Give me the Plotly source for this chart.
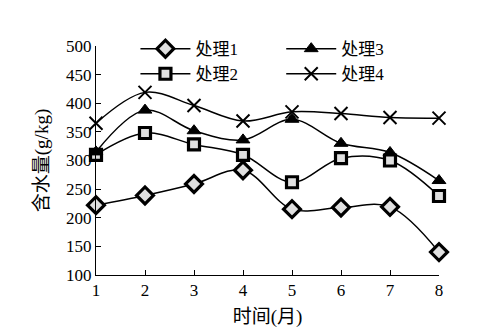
import plotly.graph_objects as go

months = [1, 2, 3, 4, 5, 6, 7, 8]
t1 = [222, 239, 259, 283, 215, 218, 219, 140]
t2 = [310, 348, 328, 310, 262, 304, 300, 238]
t3 = [315, 388, 352, 336, 372, 330, 314, 265]
t4 = [365, 419, 396, 369, 385, 382, 375, 374]
y_ticks = [100, 150, 200, 250, 300, 350, 400, 450, 500]

FONT = "Liberation Serif, Noto Sans CJK SC, serif"

fig = go.Figure()

series = [
    ("处理1", t1, dict(symbol="diamond", size=13, color="#e0e0e0",
                     line=dict(color="black", width=3.2)), "legend"),
    ("处理2", t2, dict(symbol="square", size=11, color="#e0e0e0",
                     line=dict(color="black", width=3.2)), "legend"),
    ("处理3", t3, dict(symbol="triangle-up", size=12, color="black",
                     line=dict(color="black", width=1)), "legend2"),
    ("处理4", t4, dict(symbol="x-thin", size=13, color="black",
                     line=dict(color="black", width=2)), "legend2"),
]

for name, vals, mk, lg in series:
    fig.add_trace(go.Scatter(
        x=months, y=vals, name=name, mode="lines+markers",
        line=dict(color="black", width=1.5, shape="spline", smoothing=1),
        marker=mk, cliponaxis=False, legend=lg,
    ))

legend_style = dict(
    font=dict(family=FONT, size=17, color="black"),
    bgcolor="rgba(0,0,0,0)", borderwidth=0,
    xanchor="left", yanchor="top", itemwidth=50,
    tracegroupgap=0,
)

fig.update_layout(
    width=480, height=334,
    margin=dict(l=96, r=41, t=46, b=59, autoexpand=False),
    paper_bgcolor="white", plot_bgcolor="white",
    font=dict(family=FONT, size=15, color="black"),
    legend=dict(x=0.115, y=1.065, **legend_style),
    legend2=dict(x=0.54, y=1.065, **legend_style),
    xaxis=dict(
        range=[1, 8], tickvals=months, ticks="inside", ticklen=5,
        tickcolor="black", showline=True, linecolor="black", linewidth=1,
        showgrid=False, zeroline=False, automargin=False,
        tickfont=dict(family=FONT, size=17),
        title=dict(text="时间(月)", font=dict(family=FONT, size=19), standoff=10),
    ),
    yaxis=dict(
        range=[100, 500], tickvals=y_ticks, ticks="inside", ticklen=5,
        tickcolor="black", showline=True, linecolor="black", linewidth=1,
        showgrid=False, zeroline=False, automargin=False,
        tickfont=dict(family=FONT, size=17),
        title=dict(text="含水量(g/kg)", font=dict(family=FONT, size=19), standoff=12),
    ),
)

fig.write_html("out.html")
